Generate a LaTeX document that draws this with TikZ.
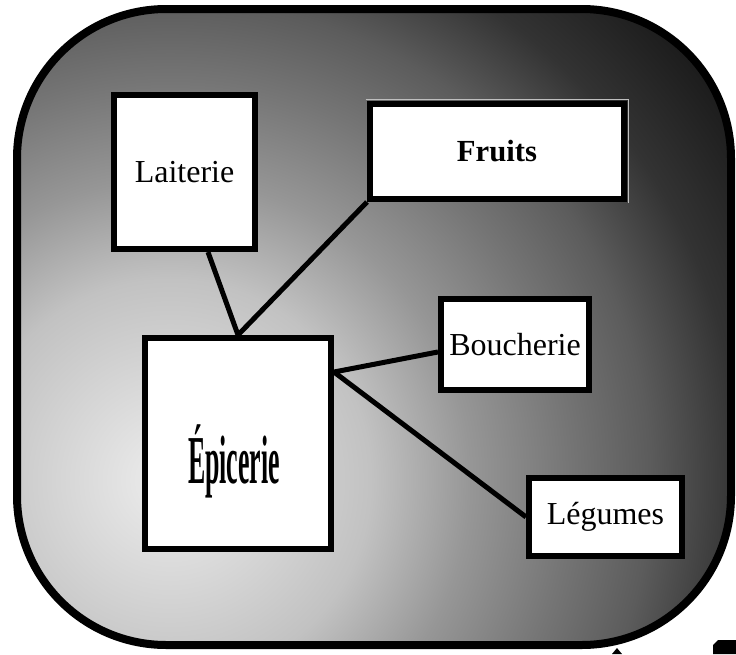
\documentclass[tikz,border=0pt]{standalone}
\usepackage{fontspec}
\setmainfont{Liberation Serif}
\usetikzlibrary{positioning}
\pgfdeclareradialshading{bgshade}{\pgfpoint{0bp}{0bp}}{color(0bp)=(black!7); color(6.7bp)=(black!24); color(10bp)=(black!41); color(13.3bp)=(black!54); color(16bp)=(black!64); color(19bp)=(black!80); color(22.7bp)=(black!90); color(25bp)=(black!92); color(50bp)=(black!92)}

\begin{document}
\begin{tikzpicture}
[x=0.75pt,y=-0.75pt,
 every node/.style={draw=black,line width=4.5pt,fill=white,inner sep=0pt,font=\fontsize{24}{28}\selectfont},
 box/.style={rectangle},
 big/.style={rectangle,font=\fontsize{19.4}{22}\selectfont\bfseries,text height=60pt,text depth=0pt},
 link/.style={line width=3.75pt}]
\useasboundingbox (0,0) rectangle (736,654);
\begin{scope}
\clip[rounded corners=112pt] (17,9) rectangle (731,645);
\shade[shading=bgshade] (170,480) circle (562.5pt);
\end{scope}
\draw[line width=6pt,rounded corners=112pt] (17,9) rectangle (731,645);

\node[big,minimum width=139.5pt,minimum height=158.25pt] (epi) at (238,443.5) {\scalebox{1}[2.65]{Épicerie}\hspace*{6pt}};
\node[box,minimum width=105.75pt,minimum height=115.5pt] (lai) [on grid,above left=203.6pt and 40.1pt of epi] {Laiterie};
\node[box,minimum width=190.5pt,minimum height=71.25pt] (fru) [on grid,above right=219pt and 194.25pt of epi] {\bfseries\fontsize{23}{26}\selectfont Fruits};
\node[box,minimum width=111pt,minimum height=68.25pt] (bou) [on grid,above right=74.25pt and 207.75pt of epi] {Boucherie};
\node[box,minimum width=114.75pt,minimum height=58.5pt] (leg) [on grid,below right=55.1pt and 275.6pt of epi] {Légumes};
\path[link] ([xshift=17.6pt]lai.south) edge (epi.north);
\path[link] (fru.south west) edge (epi.north);
\path[link] ([yshift=-27.75pt]epi.north east) edge ([yshift=-5.6pt]bou.west);
\path[link] ([yshift=-27.75pt]epi.north east) edge (leg.west);
\draw[black!25,line width=0.75pt] ([shift={(-1pt,1.2pt)}]fru.north west) -- ([shift={(1.2pt,1.2pt)}]fru.north east) -- ([shift={(1.2pt,-1pt)}]fru.south east);

% cut-off marks in the lower right corner
\fill (713,654) -- (713,645) -- (718,640) -- (736,640) -- (736,654) -- cycle;
\fill (612,654) -- (617,648) -- (622,654) -- cycle;
\end{tikzpicture}
\end{document}
